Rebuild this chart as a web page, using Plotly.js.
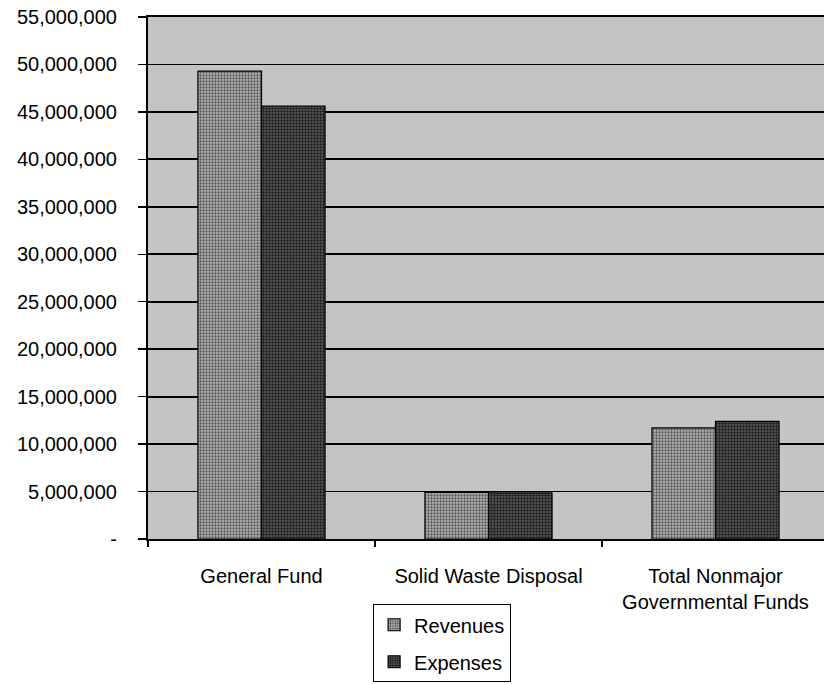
<!DOCTYPE html>
<html>
<head>
<meta charset="utf-8">
<script src="https://cdn.plot.ly/plotly-3.0.1.min.js"></script>
<style>html,body{margin:0;padding:0;background:#fff;overflow:hidden}</style>
</head>
<body>
<div id="chart" style="width:824px;height:684px"></div>
<script>
const categories = ["General Fund", "Solid Waste Disposal", "Total Nonmajor<br>Governmental Funds"];
const revenues = [49300000, 4900000, 11700000];
const expenses = [45600000, 4850000, 12400000];
const tickValues = [0, 5000000, 10000000, 15000000, 20000000, 25000000, 30000000, 35000000, 40000000, 45000000, 50000000, 55000000];
const tickLabels = ["-", "5,000,000", "10,000,000", "15,000,000", "20,000,000", "25,000,000", "30,000,000", "35,000,000", "40,000,000", "45,000,000", "50,000,000", "55,000,000"];

const font = {family: "Liberation Sans, Arial, sans-serif", size: 20, color: "#000"};

const data = [
  {
    type: "bar", name: "Revenues", x: categories, y: revenues, legendgroup: "r",
    marker: {color: "#a4a4a4", line: {color: "#000", width: 1.2},
             pattern: {shape: ".", fgcolor: "#555555", bgcolor: "#b4b4b4", size: 3, solidity: 0.45, fillmode: "replace"}}
  },
  {
    type: "bar", name: "Expenses", x: categories, y: expenses, legendgroup: "e",
    marker: {color: "#404040", line: {color: "#000", width: 1.2},
             pattern: {shape: ".", fgcolor: "#1c1c1c", bgcolor: "#5c5c5c", size: 3, solidity: 0.5, fillmode: "replace"}}
  }
];

const layout = {
  width: 824, height: 684,
  margin: {l: 148, r: 0, t: 17, b: 145},
  paper_bgcolor: "#fff",
  plot_bgcolor: "#c4c4c4",
  font: font,
  barmode: "group",
  bargap: 0.44,
  bargroupgap: 0,
  showlegend: true,
  legend: {
    x: 0.333, xanchor: "left", y: -0.125, yanchor: "top",
    bordercolor: "#000", borderwidth: 1, bgcolor: "#fff",
    font: font, traceorder: "grouped", tracegroupgap: 8
  },
  xaxis: {
    range: [-0.5, 2.478],
    showgrid: false, showline: true, linecolor: "#000", linewidth: 2, mirror: true,
    ticks: "outside", tickson: "boundaries", ticklen: 6, tickcolor: "#000", tickwidth: 1.5,
    ticklabelstandoff: 18, tickfont: font, zeroline: false
  },
  yaxis: {
    range: [0, 55000000],
    tickvals: tickValues, ticktext: tickLabels,
    showgrid: true, gridcolor: "#000", gridwidth: 1.8,
    showline: true, linecolor: "#000", linewidth: 2,
    ticks: "outside", ticklen: 8, tickcolor: "#000", tickwidth: 1.5,
    ticklabelstandoff: 17, tickfont: font, zeroline: false
  }
};

Plotly.newPlot("chart", data, layout, {displayModeBar: false, staticPlot: true});
</script>
</body>
</html>
